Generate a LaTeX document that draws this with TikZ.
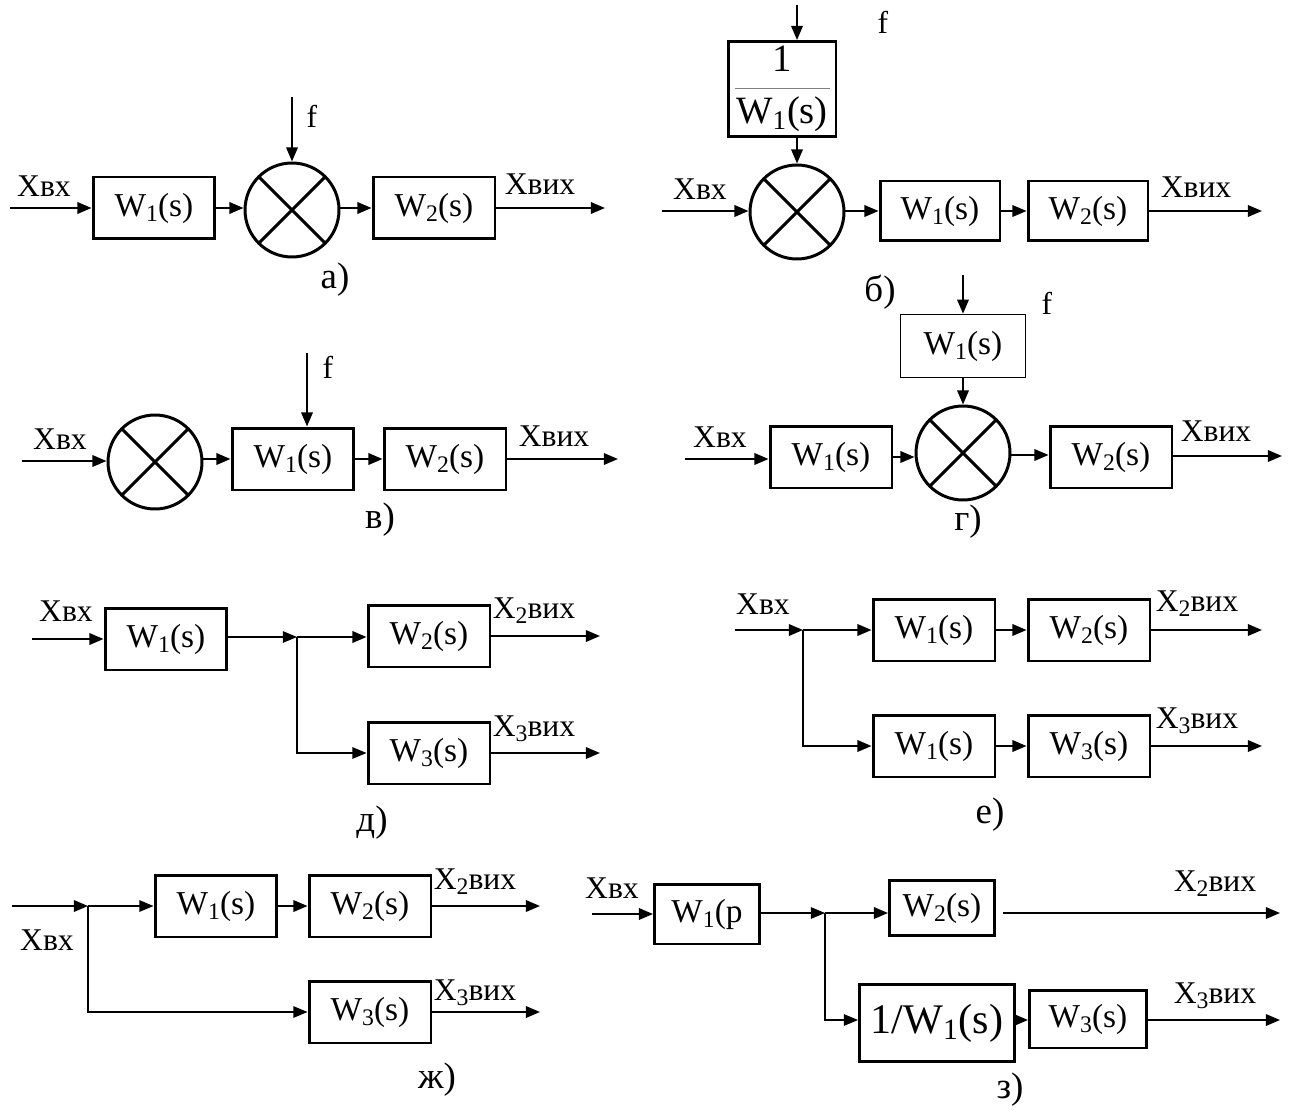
\documentclass[tikz,border=0pt]{standalone}
\usepackage{fontspec}
\setmainfont{Liberation Serif}
\usetikzlibrary{arrows.meta,positioning,calc}
\newcommand{\ix}[1]{\raisebox{-0.35ex}{\fontsize{13.5}{14}\selectfont #1}}
\newcommand{\wfn}[1]{W\ix{#1}(s)}
\tikzset{
  sysArrow/.style={-{Triangle[length=8pt,width=6.5pt]}, line width=1.1pt},
  sysThinArrow/.style={sysArrow, line width=0.7pt},
  sysWire/.style={line width=1.1pt},
  sysBlock/.style={
    draw,
    line width=1.7pt,
    minimum width=2.44cm,
    minimum height=1.24cm,
    inner sep=0pt,
    font=\fontsize{19}{22}\selectfont
  },
  sysSum/.style={
    circle,
    draw,
    line width=1.7pt,
    minimum size=1.88cm,
    inner sep=0pt,
    path picture={
      \draw[line width=1.7pt] (path picture bounding box.center) ++(45:1cm) -- ++(225:2cm);
      \draw[line width=1.7pt] (path picture bounding box.center) ++(135:1cm) -- ++(-45:2cm);
    }
  },
  sysTag/.style={font=\fontsize{18}{20}\selectfont, inner sep=0pt},
  sysCaption/.style={font=\fontsize{21}{23}\selectfont, inner sep=0pt}
}

\begin{document}
\begin{tikzpicture}[x=0.02cm, y=-0.02cm]
  \useasboundingbox (0,0) rectangle (1291,1111);

  % a)
  \node[sysBlock] (w1a) at (154,208) {\wfn{1}};
  \node[sysSum] (sa) at (292,210) {};
  \node[sysBlock] (w2a) at (434,208) {\wfn{2}};
  \coordinate (ina) at (10,208);
  \coordinate (outa) at (605,208);
  \coordinate (fa) at (292,97);
  \draw[sysArrow] (ina) -- (w1a);
  \draw[sysArrow] (w1a) -- (w1a -| sa.west);
  \draw[sysArrow] (sa.east |- w2a) -- (w2a);
  \draw[sysArrow] (w2a) -- (outa);
  \draw[sysArrow] (fa) -- (sa);
  \node[sysTag] at (44,186) {Xвх};
  \node[sysTag] at (540,184) {Xвих};
  \node[sysTag] at (312,116) {f};
  \node[sysCaption] at (335,280) {а)};

  % b)
  \node[sysSum] (sb) at (797,212) {};
  \node[sysBlock, minimum width=2.16cm, minimum height=1.9cm, font=\fontsize{22}{26}\selectfont, align=center] (invb) at (782,89)
    {1\\[-16pt]{\color{gray}\rule{1.9cm}{0.8pt}}\\[-6.5pt]W\textsubscript{1}(s)};
  \node[sysBlock, minimum width=2.4cm, minimum height=1.2cm] (w1b) at (940,211) {\wfn{1}};
  \node[sysBlock, minimum width=2.4cm, minimum height=1.2cm] (w2b) at (1088,211) {\wfn{2}};
  \coordinate (inb) at (662,211);
  \coordinate (outb) at (1262,211);
  \coordinate (topb) at (797,5);
  \draw[sysArrow] (topb) -- (topb |- invb.north);
  \draw[sysArrow] (sb.north |- invb.south) -- (sb);
  \draw[sysArrow] (inb) -- (inb -| sb.west);
  \draw[sysArrow] (sb.east |- w1b) -- (w1b);
  \draw[sysArrow] (w1b) -- (w2b);
  \draw[sysArrow] (w2b) -- (outb);
  \node[sysTag] at (700,189) {Xвх};
  \node[sysTag] at (1196,187) {Xвих};
  \node[sysTag] at (883,22) {f};
  \node[sysCaption] at (880,292) {б)};

  % c)
  \node[sysSum] (sc) at (155,462) {};
  \node[sysBlock] (w1c) at (293,459) {\wfn{1}};
  \node[sysBlock] (w2c) at (445,459) {\wfn{2}};
  \coordinate (inc) at (22,461);
  \coordinate (outc) at (618,459);
  \coordinate (fc) at (307,353);
  \draw[sysArrow] (inc) -- (inc -| sc.west);
  \draw[sysArrow] (sc.east |- w1c) -- (w1c);
  \draw[sysArrow] (w1c) -- (w2c);
  \draw[sysArrow] (w2c) -- (outc);
  \draw[sysArrow] (fc) -- (fc |- w1c.north);
  \node[sysTag] at (60,439) {Xвх};
  \node[sysTag] at (554,436) {Xвих};
  \node[sysTag] at (328,367) {f};
  \node[sysCaption] at (380,520) {в)};

  % d)
  \node[sysBlock] (w1d) at (831,457) {\wfn{1}};
  \node[sysSum] (sd) at (963,453) {};
  \node[sysBlock] (w2d) at (1111,457) {\wfn{2}};
  \node[sysBlock, line width=0.9pt, minimum width=2.5cm, minimum height=1.26cm] (td) at (963,346) {\wfn{1}};
  \coordinate (ind) at (685,459);
  \coordinate (outd) at (1282,456);
  \coordinate (fd) at (963,275);
  \draw[sysArrow] (fd) -- (td);
  \draw[sysArrow] (td) -- (sd);
  \draw[sysArrow] (ind) -- (ind -| w1d.west);
  \draw[sysArrow] (w1d.east |- 0,457) -- (sd.west |- 0,457);
  \draw[sysArrow] (sd.east |- 0,455) -- (w2d.west |- 0,455);
  \draw[sysArrow] (w2d.east |- outd) -- (outd);
  \node[sysTag] at (720,437) {Xвх};
  \node[sysTag] at (1216,431) {Xвих};
  \node[sysTag] at (1047,303) {f};
  \node[sysCaption] at (968,522) {г)};

  % e)
  \node[sysBlock] (w1e) at (166,639) {\wfn{1}};
  \node[sysBlock] (w2e) at (429,636) {\wfn{2}};
  \node[sysBlock] (w3e) at (429,753) {\wfn{3}};
  \coordinate (ine) at (32,639);
  \coordinate (bre) at (297,637);
  \coordinate (out2e) at (600,636);
  \coordinate (out3e) at (600,753);
  \draw[sysArrow] (ine) -- (w1e);
  \draw[sysThinArrow] (w1e.east |- bre) -- (bre);
  \draw[sysArrow] (bre) -- (bre -| w2e.west);
  \draw[sysThinArrow] (bre) |- (w3e);
  \draw[sysArrow] (w2e) -- (out2e);
  \draw[sysArrow] (w3e) -- (out3e);
  \node[sysTag] at (66,611) {Xвх};
  \node[sysTag] at (534,611) {X\ix{2}вих};
  \node[sysTag] at (534,729) {X\ix{3}вих};
  \node[sysCaption] at (372,823) {д)};

  % f)
  \node[sysBlock] (w1f) at (934,630) {\wfn{1}};
  \node[sysBlock] (w2f) at (1089,630) {\wfn{2}};
  \node[sysBlock] (w1g) at (934,746) {\wfn{1}};
  \node[sysBlock] (w3f) at (1089,746) {\wfn{3}};
  \coordinate (inf) at (735,630);
  \coordinate (brf) at (803,630);
  \coordinate (out2f) at (1262,630);
  \coordinate (out3f) at (1262,746);
  \draw[sysArrow] (inf) -- (brf);
  \draw[sysArrow] (brf) -- (w1f);
  \draw[sysArrow] (w1f) -- (w2f);
  \draw[sysArrow] (w2f) -- (out2f);
  \draw[sysArrow] (brf) |- (w1g);
  \draw[sysArrow] (w1g) -- (w3f);
  \draw[sysArrow] (w3f) -- (out3f);
  \node[sysTag] at (763,604) {Xвх};
  \node[sysTag] at (1197,604) {X\ix{2}вих};
  \node[sysTag] at (1197,721) {X\ix{3}вих};
  \node[sysCaption] at (990,815) {е)};

  % g)
  \node[sysBlock] (w1h) at (216,906) {\wfn{1}};
  \node[sysBlock] (w2h) at (370,906) {\wfn{2}};
  \node[sysBlock] (w3h) at (370,1012) {\wfn{3}};
  \coordinate (inh) at (12,906);
  \coordinate (brh) at (88,906);
  \coordinate (out2h) at (540,906);
  \coordinate (out3h) at (540,1012);
  \draw[sysArrow] (inh) -- (brh);
  \draw[sysThinArrow] (brh) -- (w1h);
  \draw[sysArrow] (w1h) -- (w2h);
  \draw[sysArrow] (w2h) -- (out2h);
  \draw[sysThinArrow] (brh) |- (w3h);
  \draw[sysArrow] (w3h) -- (out3h);
  \node[sysTag] at (47,940) {Xвх};
  \node[sysTag] at (475,882) {X\ix{2}вих};
  \node[sysTag] at (475,993) {X\ix{3}вих};
  \node[sysCaption] at (437,1080) {ж)};

  % h)
  \node[sysBlock, minimum width=2.1cm, minimum height=1.2cm] (w1i) at (707,914) {W\ix{1}(p};
  \node[sysBlock, minimum width=2.1cm, minimum height=1.1cm] (w2i) at (942,908) {\wfn{2}};
  \node[sysBlock, minimum width=3.1cm, minimum height=1.54cm, font=\fontsize{24}{26}\selectfont] (invi) at (937,1023) {1/W\textsubscript{1}(s)};
  \node[sysBlock, minimum width=2.34cm, minimum height=1.16cm] (w3i) at (1088,1019) {\wfn{3}};
  \coordinate (ini) at (592,914);
  \coordinate (bri) at (825,913);
  \coordinate (gapi) at ($(w2i.east |- bri)+(0.14cm,0)$);
  \coordinate (out2i) at (1280,913);
  \coordinate (out3i) at (1280,1020);
  \draw[sysArrow] (ini) -- (w1i);
  \draw[sysThinArrow] (w1i.east |- bri) -- (bri);
  \draw[sysArrow] (bri) -- (bri -| w2i.west);
  \draw[sysArrow] (gapi) -- (out2i);
  \draw[sysThinArrow] (bri) |- (invi.west |- out3i);
  \draw[sysArrow] (invi.east |- out3i) -- (w3i.west |- out3i);
  \draw[sysArrow] (w3i.east |- out3i) -- (out3i);
  \node[sysTag] at (612,888) {Xвх};
  \node[sysTag] at (1215,884) {X\ix{2}вих};
  \node[sysTag] at (1215,996) {X\ix{3}вих};
  \node[sysCaption] at (1010,1090) {з)};
\end{tikzpicture}
\end{document}
